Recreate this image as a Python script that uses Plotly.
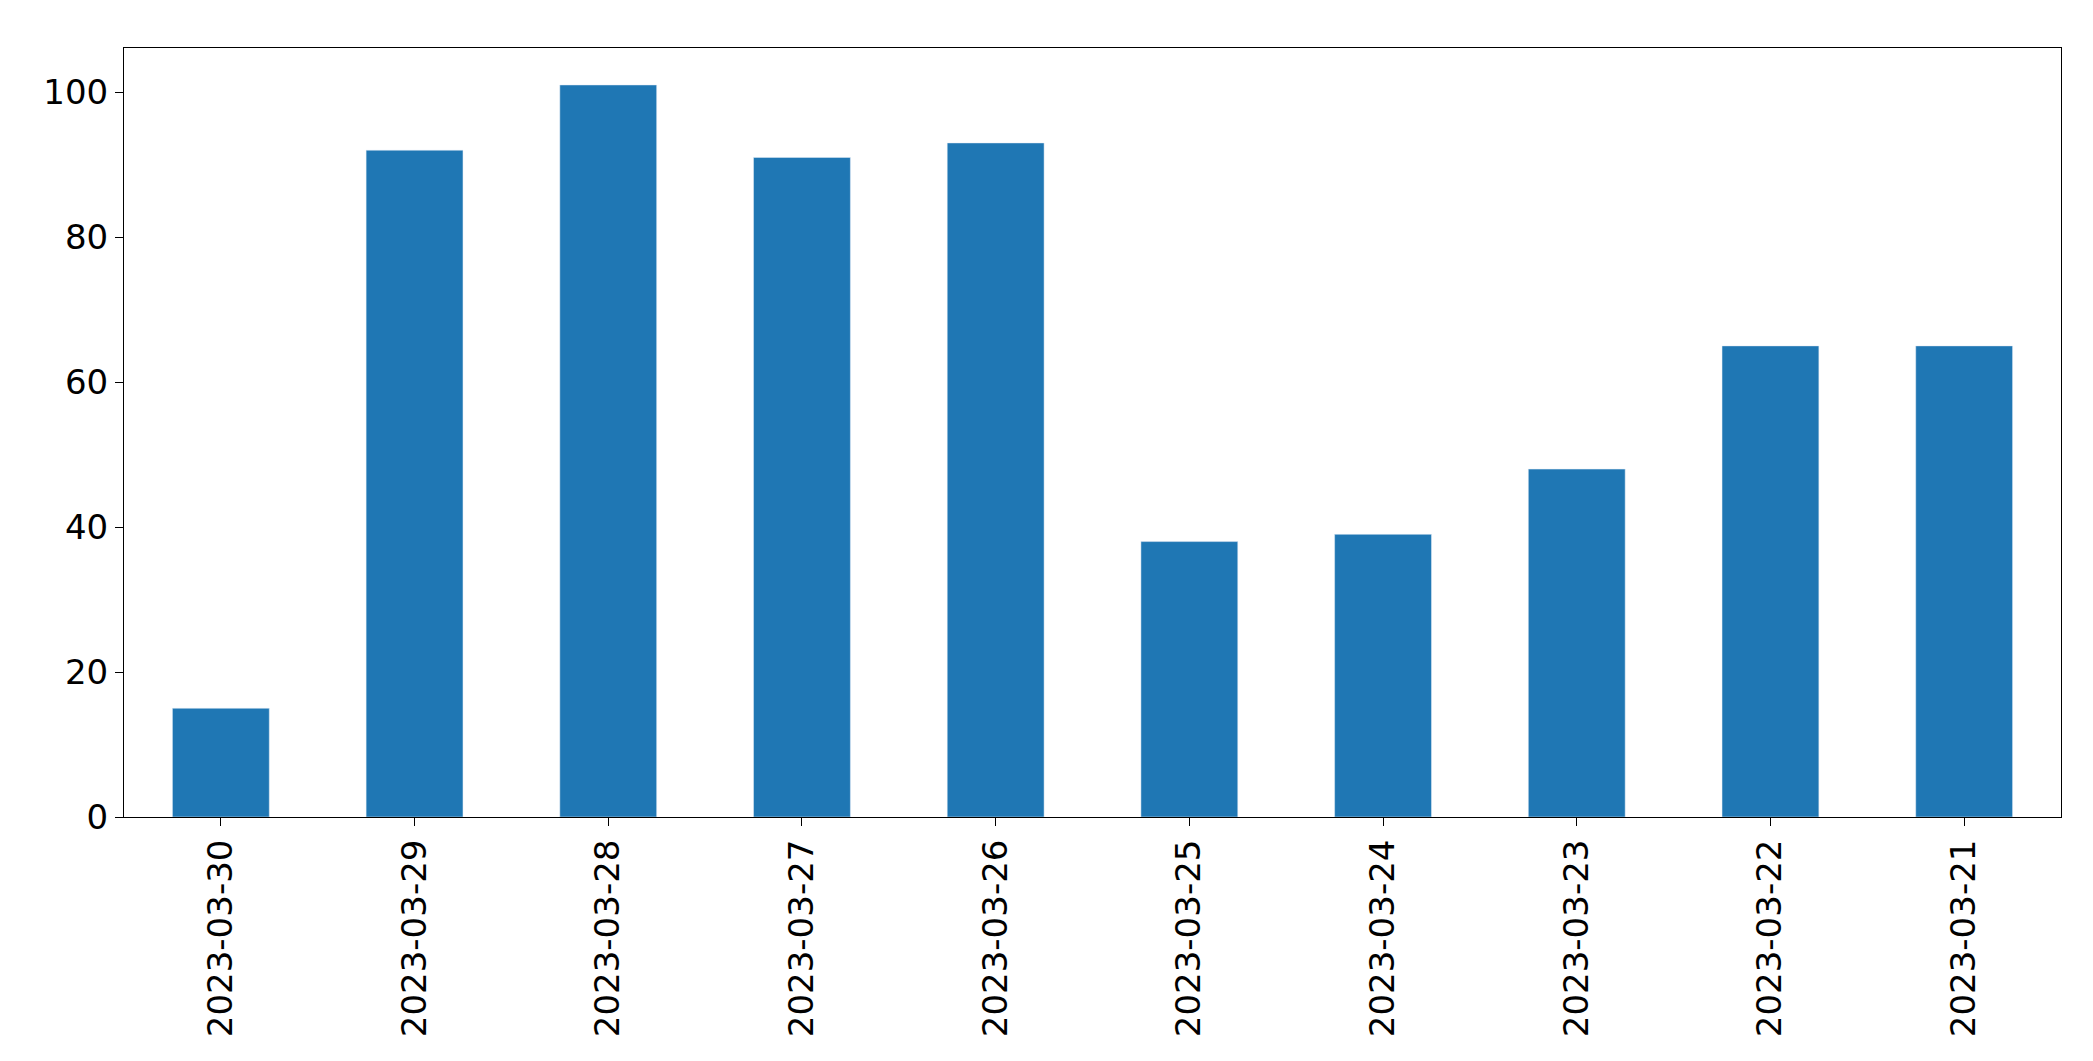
import plotly.graph_objects as go

dates = ["2023-03-30","2023-03-29","2023-03-28","2023-03-27","2023-03-26",
         "2023-03-25","2023-03-24","2023-03-23","2023-03-22","2023-03-21"]
values = [15, 92, 101, 91, 93, 38, 39, 48, 65, 65]

fig = go.Figure(go.Bar(x=dates, y=values, marker_color="#1f77b4", width=0.5))
fig.update_layout(
    width=2093, height=1061, plot_bgcolor="white", paper_bgcolor="white",
    margin=dict(l=116, r=40, t=40, b=252), showlegend=False,
    font=dict(family="DejaVu Sans", size=34, color="black"),
)
fig.update_xaxes(type="category", tickangle=-90, showline=True, linecolor="black",
                 mirror=True, ticks="outside", ticklen=8, tickcolor="black",
                 range=[-0.5, 9.5])
fig.update_yaxes(range=[0, 106.1], showline=True, linecolor="black", mirror=True,
                 ticks="outside", ticklen=8, tickcolor="black", showgrid=False,
                 zeroline=False, tickvals=[0,20,40,60,80,100])
fig.write_html("out.html")
